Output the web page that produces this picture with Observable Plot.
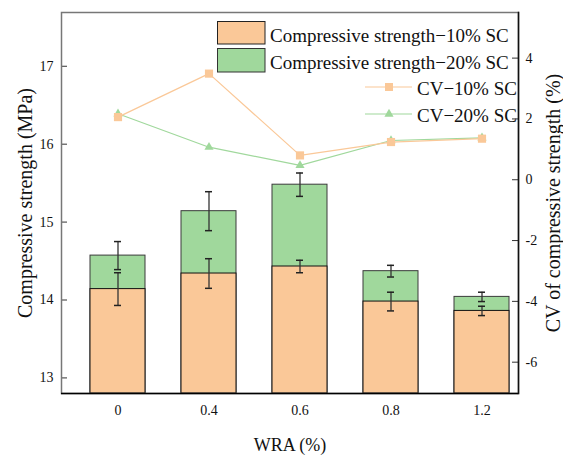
<!DOCTYPE html>
<html><head><meta charset="utf-8">
<script src="https://cdn.jsdelivr.net/npm/d3@7"></script>
<script src="https://cdn.jsdelivr.net/npm/@observablehq/plot@0.6"></script>
<style>
body{margin:0;background:#fff;}
#chart{position:relative;width:563px;height:457px;font-family:"Liberation Serif",serif;}
#chart svg{position:absolute;left:0;top:0;font-family:"Liberation Serif",serif;}
</style></head><body><div id="chart"></div>
<script>
const wra = ["0", "0.4", "0.6", "0.8", "1.2"];
const strength10 = [14.14, 14.34, 14.43, 13.98, 13.86];
const err10 = [0.21, 0.19, 0.08, 0.12, 0.06];
const strength20 = [14.57, 15.14, 15.48, 14.37, 14.04];
const err20 = [0.18, 0.25, 0.15, 0.075, 0.06];
const cv10 = [2.06, 3.49, 0.80, 1.24, 1.35];
const cv20 = [2.17, 1.07, 0.47, 1.29, 1.38];
const strengthTicks = [13, 14, 15, 16, 17];
const cvTicks = [-6, -4, -2, 0, 2, 4];
const strengthDomain = [12.8, 17.69];
const cvDomain = [-7.03, 5.5];
const legendLabels = ["Compressive strength\u221210% SC", "Compressive strength\u221220% SC", "CV\u221210% SC", "CV\u221220% SC"];
const titles = {x: "WRA (%)", y: "Compressive strength (MPa)", y2: "CV of compressive strength (%)"};

const ORANGE = "#FAC898", GREEN = "#A0D89C";
const FONT = "Liberation Serif";

const data = wra.map((w, i) => ({wra: w, s10: strength10[i], e10: err10[i], s20: strength20[i], e20: err20[i], cv10: cv10[i], cv20: cv20[i]}));
const xOpts = {type: "band", domain: wra, paddingInner: 0.4, paddingOuter: 0.2, align: 0.76};
const common = {width: 563, height: 457, marginLeft: 61, marginRight: 45, marginTop: 12, marginBottom: 64};
const capInset = {insetLeft: 24, insetRight: 24};
const txt = {fontFamily: FONT, fill: "#111"};

const p1 = Plot.plot({
  ...common,
  style: {fontFamily: FONT, fontSize: "14px", background: "white", color: "#222"},
  x: {...xOpts, label: null},
  y: {domain: strengthDomain, label: null},
  marks: [
    Plot.barY(data, {x: "wra", y1: strengthDomain[0], y2: "s20", fill: GREEN, stroke: "#3a3a3a", strokeWidth: 1}),
    Plot.barY(data, {x: "wra", y1: strengthDomain[0], y2: "s10", fill: ORANGE, stroke: "#111", strokeWidth: 1}),
    Plot.ruleX(data, {x: "wra", y1: d => d.s20 - d.e20, y2: d => d.s20 + d.e20, stroke: "#333", strokeWidth: 1.3}),
    Plot.tickY(data, {x: "wra", y: d => d.s20 + d.e20, ...capInset, stroke: "#222", strokeWidth: 1.5}),
    Plot.tickY(data, {x: "wra", y: d => d.s20 - d.e20, ...capInset, stroke: "#222", strokeWidth: 1.5}),
    Plot.ruleX(data, {x: "wra", y1: d => d.s10 - d.e10, y2: d => d.s10 + d.e10, stroke: "#333", strokeWidth: 1.3}),
    Plot.tickY(data, {x: "wra", y: d => d.s10 + d.e10, ...capInset, stroke: "#222", strokeWidth: 1.5}),
    Plot.tickY(data, {x: "wra", y: d => d.s10 - d.e10, ...capInset, stroke: "#222", strokeWidth: 1.5}),
    Plot.ruleY(strengthTicks, {insetRight: 451, stroke: "#333"}),
    Plot.axisY({ticks: strengthTicks, tickSize: 0, tickPadding: 8, tickFormat: d => String(d), label: null, fontSize: 14, ...txt}),
    Plot.axisX({tickSize: 0, tickPadding: 12, label: null, fontSize: 14, ...txt}),
    Plot.frame({stroke: "#777", strokeWidth: 1.5}),
    Plot.ruleY([strengthDomain[0]], {stroke: "#000", strokeWidth: 1.5}),
    Plot.text([titles.y], {frameAnchor: "left", rotate: -90, dx: -36, fontSize: 20, textAnchor: "middle", lineAnchor: "middle", ...txt}),
    Plot.text([titles.x], {frameAnchor: "bottom", dy: 52, fontSize: 18, lineAnchor: "middle", ...txt})
  ]
});

const p2 = Plot.plot({
  ...common,
  style: {fontFamily: FONT, fontSize: "14px", background: "transparent", color: "#222"},
  x: {...xOpts, axis: null},
  y: {domain: cvDomain, label: null},
  marks: [
    Plot.ruleY(cvTicks, {insetLeft: 451, stroke: "#333"}),
    Plot.axisY({anchor: "right", ticks: cvTicks, tickSize: 0, tickPadding: 7, tickFormat: d => String(d), label: null, fontSize: 14, ...txt}),
    Plot.frame({anchor: "right", stroke: "#111", strokeWidth: 1.5}),
    Plot.lineY(data, {x: "wra", y: "cv20", stroke: GREEN, strokeWidth: 1.2}),
    Plot.dot(data, {x: "wra", y: "cv20", symbol: "triangle", r: 3.4, fill: GREEN}),
    Plot.lineY(data, {x: "wra", y: "cv10", stroke: ORANGE, strokeWidth: 1.2}),
    Plot.dot(data, {x: "wra", y: "cv10", symbol: "square", r: 4.6, fill: ORANGE}),
    Plot.text([titles.y2], {frameAnchor: "right", rotate: -90, dx: 35, fontSize: 20, textAnchor: "middle", lineAnchor: "middle", ...txt})
  ]
});

const chart = document.getElementById("chart");
chart.appendChild(p1);
chart.appendChild(p2);

// Legend overlay
const leg = d3.select(chart).append("svg").attr("width", 563).attr("height", 457)
  .style("pointer-events", "none").style("font-family", FONT);
leg.append("rect").attr("x", 217.5).attr("y", 21.5).attr("width", 47.5).attr("height", 22.5).attr("fill", ORANGE).attr("stroke", "#222");
leg.append("rect").attr("x", 217.5).attr("y", 48.5).attr("width", 47.5).attr("height", 23.5).attr("fill", GREEN).attr("stroke", "#333");
leg.append("text").attr("x", 270).attr("y", 41.5).attr("font-size", 19).attr("fill", "#111").text(legendLabels[0]);
leg.append("text").attr("x", 270).attr("y", 68.5).attr("font-size", 19).attr("fill", "#111").text(legendLabels[1]);
leg.append("line").attr("x1", 365).attr("x2", 412).attr("y1", 87).attr("y2", 87).attr("stroke", ORANGE).attr("stroke-width", 1.2);
leg.append("rect").attr("x", 385).attr("y", 83).attr("width", 8).attr("height", 8).attr("fill", ORANGE);
leg.append("text").attr("x", 417).attr("y", 94.5).attr("font-size", 19).attr("fill", "#111").text(legendLabels[2]);
leg.append("line").attr("x1", 365).attr("x2", 412).attr("y1", 114).attr("y2", 114).attr("stroke", GREEN).attr("stroke-width", 1.2);
leg.append("path").attr("d", d3.symbol(d3.symbolTriangle, Math.PI * 3.4 * 3.4)()).attr("transform", "translate(389,114)").attr("fill", GREEN);
leg.append("text").attr("x", 417).attr("y", 121.5).attr("font-size", 19).attr("fill", "#111").text(legendLabels[3]);
</script></body></html>
